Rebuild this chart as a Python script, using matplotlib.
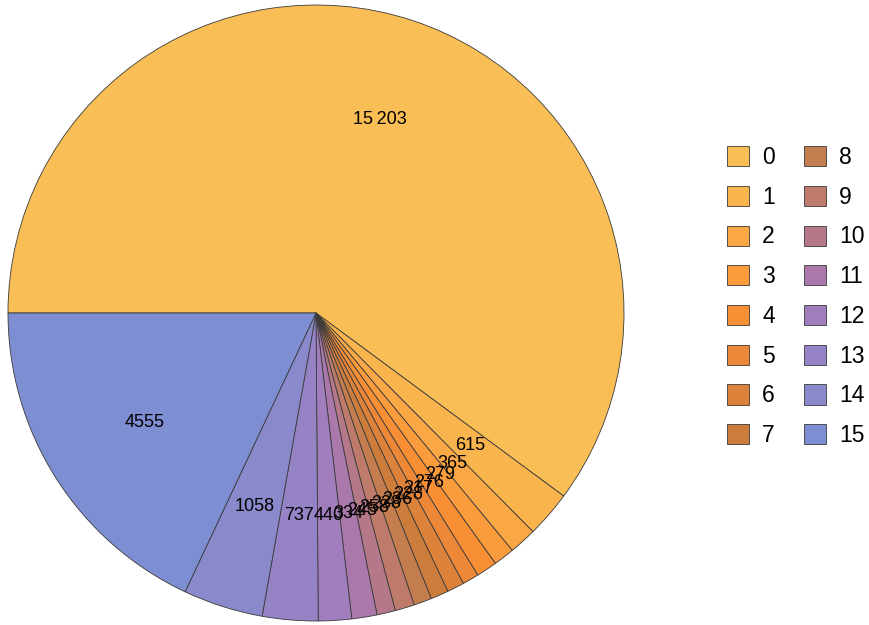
import numpy as np
import matplotlib
matplotlib.use("Agg")
import matplotlib.pyplot as plt

plt.rcParams['font.family'] = ['Liberation Sans', 'DejaVu Sans']

# =========================================================
# DATA
# =========================================================
categories = [str(i) for i in range(16)]
values = [15203, 615, 365, 279, 276, 217, 228, 236, 238, 258, 245, 334, 440, 737, 1058, 4555]
labels = ["15\u2009203", "615", "365", "279", "276", "217", "228", "236",
          "238", "258", "245", "334", "440", "737", "1058", "4555"]
colors = ["#F9BE55", "#F9B44D", "#F9A845", "#FA9C3C", "#F98F35", "#EC8838",
          "#DC823A", "#CC7D3C", "#C47D4E", "#BE7A6A", "#B47888", "#AA78AA",
          "#A07EBE", "#9583C5", "#8A89CC", "#7D8ED3"]

W, H = 870, 625
fig = plt.figure(figsize=(W / 100, H / 100), dpi=100)

# pie centre (316, 313) px, radius 308 px
cx, cy, r = 316, 313, 308
ax = fig.add_axes([(cx - r) / W, (H - cy - r) / H, 2 * r / W, 2 * r / H])

wedges, _ = ax.pie(values, colors=colors, startangle=180, counterclock=False,
                   radius=1.0,
                   wedgeprops=dict(edgecolor="#3a3a3a", linewidth=0.6))
ax.set_xlim(-1, 1)
ax.set_ylim(-1, 1)
ax.set_aspect("equal")
ax.axis("off")

# value labels inside each wedge
for w, lab in zip(wedges, labels):
    mid = np.deg2rad((w.theta1 + w.theta2) / 2)
    ax.text(0.66 * np.cos(mid), 0.66 * np.sin(mid), lab,
            ha="center", va="center", fontsize=13)

# =========================================================
# LEGEND
# =========================================================
fig.legend(wedges, categories, ncol=2, frameon=False,
           loc="upper left", bbox_to_anchor=(727 / W, 1 - 146 / H),
           fontsize=16.5, handlelength=0.97, handleheight=0.97,
           handletextpad=0.57, labelspacing=0.73, columnspacing=1.25,
           borderpad=0, borderaxespad=0)

fig.savefig("out.png", dpi=100)
